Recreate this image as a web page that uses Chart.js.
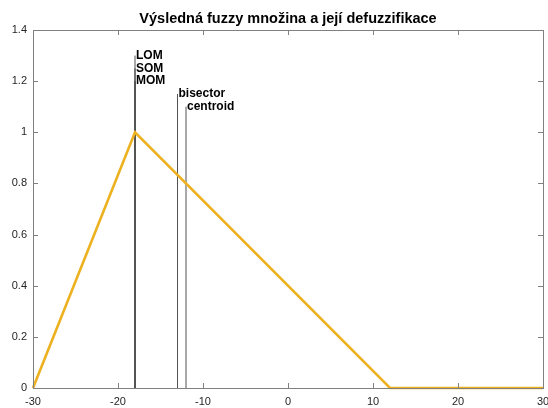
<!DOCTYPE html>
<html>
<head>
<meta charset="utf-8">
<script src="https://cdn.jsdelivr.net/npm/chart.js@4/dist/chart.umd.min.js"></script>
<style>
    body { margin: 0; background: #fff; }
    #wrap { width: 548px; height: 408px; }
</style>
</head>
<body>
<div id="wrap"><canvas id="fuzzy-chart" width="548" height="408"></canvas></div>
<script>
const TITLE = 'Výsledná fuzzy množina a její defuzzifikace';

// output fuzzy set (piecewise linear)
const setX = [-30, -18, 12, 30];
const setMu = [0, 1, 0, 0];

// defuzzification results and where their labels sit
const defuzzNames = ['LOM', 'SOM', 'MOM', 'bisector', 'centroid'];
const defuzzX = [-18, -18, -18, -13, -12];
const defuzzLabelY = [1.3, 1.25, 1.2, 1.15, 1.1];

const xMin = -30, xMax = 30, xStep = 10;
const yMin = 0, yMax = 1.4, yStep = 0.2;

const AXIS_COLOR = '#808080';
const TEXT_COLOR = '#262626';
const FONT = '"Liberation Sans", Arial, sans-serif';

const fuzzyDataset = {
    data: setX.map((x, i) => ({ x: x, y: setMu[i] })),
    borderColor: '#EDB120',
    borderWidth: 2.6,
    pointRadius: 0,
    tension: 0,
    clip: false
};

// one vertical marker per defuzzification method
const markerDatasets = defuzzX.map((x, i) => ({
    data: [{ x: x, y: 0 }, { x: x, y: defuzzLabelY[i] }],
    borderColor: '#262626',
    borderWidth: 0.8,
    pointRadius: 0,
    clip: false
}));

//draws the box, inward ticks, title and method labels
const matlabAxes = {
    id: 'matlabAxes',
    afterDatasetsDraw(chart) {
        const ctx = chart.ctx;
        const area = chart.chartArea;
        const xs = chart.scales.x;
        const ys = chart.scales.y;
        const tick = 5;

        ctx.save();
        ctx.strokeStyle = AXIS_COLOR;
        ctx.lineWidth = 1;
        ctx.strokeRect(Math.round(area.left) + 0.5, Math.round(area.top) + 0.5,
            Math.round(area.right - area.left), Math.round(area.bottom - area.top));

        ctx.beginPath();
        xs.ticks.forEach(t => {
            const px = Math.round(xs.getPixelForValue(t.value)) + 0.5;
            ctx.moveTo(px, area.bottom);
            ctx.lineTo(px, area.bottom - tick);
            ctx.moveTo(px, area.top);
            ctx.lineTo(px, area.top + tick);
        });
        ys.ticks.forEach(t => {
            const py = Math.round(ys.getPixelForValue(t.value)) + 0.5;
            ctx.moveTo(area.left, py);
            ctx.lineTo(area.left + tick, py);
            ctx.moveTo(area.right, py);
            ctx.lineTo(area.right - tick, py);
        });
        ctx.stroke();

        ctx.fillStyle = '#000';
        ctx.font = 'bold 12px ' + FONT;
        ctx.textAlign = 'left';
        ctx.textBaseline = 'middle';
        defuzzNames.forEach((name, i) => {
            ctx.fillText(name, xs.getPixelForValue(defuzzX[i]) + 1, ys.getPixelForValue(defuzzLabelY[i]));
        });

        ctx.font = 'bold 14.5px ' + FONT;
        ctx.textAlign = 'center';
        ctx.fillText(TITLE, (area.left + area.right) / 2, 19);
        ctx.restore();
    }
};

const ctx = document.getElementById('fuzzy-chart').getContext('2d');
const fuzzyChart = new Chart(ctx, {
    type: 'line',
    data: {
        datasets: [fuzzyDataset, ...markerDatasets]
    },
    options: {
        responsive: false,
        animation: false,
        layout: {
            padding: { top: 30, right: 5, left: 0, bottom: 0 }
        },
        scales: {
            x: {
                type: 'linear',
                min: xMin,
                max: xMax,
                grid: { display: false, drawTicks: false },
                border: { display: false },
                ticks: {
                    stepSize: xStep,
                    maxRotation: 0,
                    padding: 7,
                    color: TEXT_COLOR,
                    font: { family: FONT, size: 11 }
                },
                afterFit(scale) {
                    scale.height = 20;
                    scale.paddingLeft = 0;
                    scale.paddingRight = 0;
                }
            },
            y: {
                min: yMin,
                max: yMax,
                grid: { display: false, drawTicks: false },
                border: { display: false },
                ticks: {
                    stepSize: yStep,
                    padding: 6,
                    color: TEXT_COLOR,
                    font: { family: FONT, size: 11 },
                    callback: v => String(Number(v.toFixed(1)))
                },
                afterFit(scale) {
                    scale.width = 33;
                    scale.paddingTop = 0;
                    scale.paddingBottom = 0;
                }
            }
        },
        plugins: {
            legend: { display: false },
            title: { display: false },
            tooltip: { enabled: false }
        }
    },
    plugins: [matlabAxes]
});
</script>
</body>
</html>
